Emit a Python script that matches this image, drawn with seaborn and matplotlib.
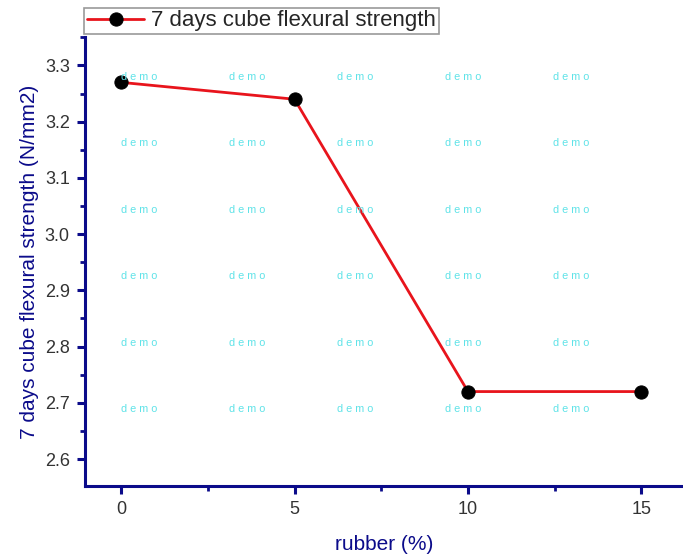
import numpy as np
import pandas as pd
import matplotlib
matplotlib.use('Agg')
import matplotlib.pyplot as plt
import seaborn as sns

rubber = [0, 5, 10, 15]
strength = [3.27, 3.24, 2.72, 2.72]
series_name = '7 days cube flexural strength'

df = pd.DataFrame({'rubber': rubber, 'strength': strength})

sns.set_style('white')
plt.rcParams['font.family'] = ['Liberation Sans', 'DejaVu Sans']

navy = '#0b0b8a'
fig = plt.figure(figsize=(6.83, 5.58), dpi=100)
ax = fig.add_axes([0.1245, 0.129, 0.8755, 0.805])

sns.lineplot(data=df, x='rubber', y='strength', ax=ax, color='#e8141c', linewidth=2,
             marker='o', markersize=9.5, markerfacecolor='black', markeredgecolor='black',
             label=series_name)

ax.set_xlim(-1.04, 16.2)
ax.set_ylim(2.552, 3.351)
ax.set_xticks([0, 5, 10, 15])
ax.set_xticks([2.5, 7.5, 12.5], minor=True)
ax.set_yticks(np.arange(2.6, 3.31, 0.1))
ax.set_yticklabels([f'{v:.1f}' for v in np.arange(2.6, 3.31, 0.1)])
ax.set_yticks(np.arange(2.65, 3.35, 0.1), minor=True)

for s in ['top', 'right']:
    ax.spines[s].set_visible(False)
for s in ['left', 'bottom']:
    ax.spines[s].set_color(navy)
    ax.spines[s].set_linewidth(2.2)
ax.tick_params(which='major', direction='out', length=6, width=2.2, color=navy,
               labelsize=13, labelcolor='#333333', pad=5, left=True, bottom=True)
ax.tick_params(which='minor', direction='out', length=3.5, width=2, color=navy,
               left=True, bottom=True)

ax.set_xlabel('rubber (%)', fontsize=15, color=navy, labelpad=12)
ax.set_ylabel('7 days cube flexural strength (N/mm2)', fontsize=15, color=navy, labelpad=4)

# watermark
for fx in [139, 247, 355, 463, 571]:
    for fy in [77, 143, 210, 276, 343, 409]:
        fig.text(fx / 683, 1 - fy / 558, 'd e m o', fontsize=7.8, color='#5fe3e8',
                 ha='center', va='center')

ax.legend(loc='lower left', bbox_to_anchor=(84 / 683, 1 - 34 / 558),
          bbox_transform=fig.transFigure, fontsize=16, frameon=True, fancybox=False,
          edgecolor='#808080', handlelength=2.6, borderpad=0.12, borderaxespad=0,
          handletextpad=0.3)
ax.get_legend().get_frame().set_linewidth(1.2)

fig.savefig('out.png', dpi=100)
